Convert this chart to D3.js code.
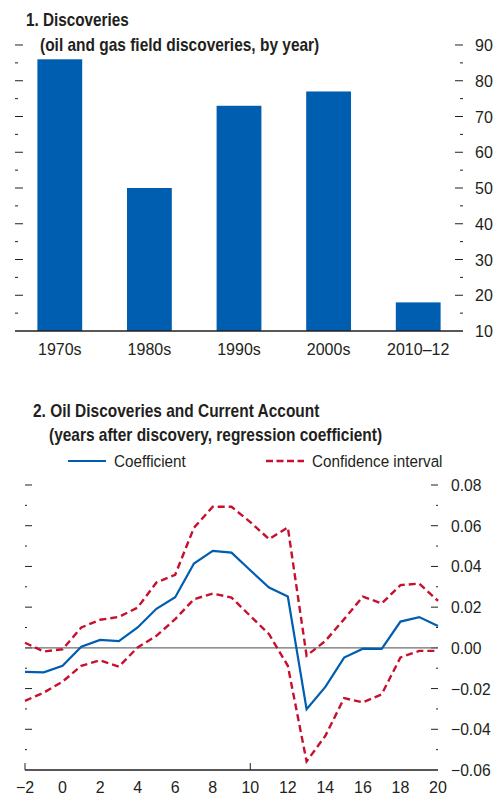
<!DOCTYPE html>
<html>
<head>
<meta charset="utf-8">
<script src="https://cdn.jsdelivr.net/npm/d3@7"></script>
<style>
  body { margin: 0; background: #fff; }
  svg text { font-family: "Liberation Sans", Arial, sans-serif; fill: #231f20; }
  .title { font-weight: bold; font-size: 18px; }
  .tick-lab { font-size: 16.5px; }
</style>
</head>
<body>
<script>
// panel 1 data
var decades = ["1970s", "1980s", "1990s", "2000s", "2010–12"];
var discoveries = [86, 50, 73, 77, 18];
var yTicks1 = [10, 20, 30, 40, 50, 60, 70, 80, 90];

// panel 2 data
var years = [-2, -1, 0, 1, 2, 3, 4, 5, 6, 7, 8, 9, 10, 11, 12, 13, 14, 15, 16, 17, 18, 19, 20];
var coefficient = [-0.0118, -0.0120, -0.0088, 0.0006, 0.0039, 0.0033, 0.0100, 0.0192, 0.0249, 0.0414, 0.0476, 0.0468,
                   0.0381, 0.0296, 0.0252, -0.0301, -0.0192, -0.0048, -0.0004, -0.0005, 0.0129, 0.0151, 0.0107];
var upperCI = [0.0025, -0.0018, -0.0007, 0.0100, 0.0138, 0.0152, 0.0198, 0.0321, 0.0359, 0.0590, 0.0693, 0.0693,
               0.0618, 0.0534, 0.0592, -0.0039, 0.0034, 0.0141, 0.0252, 0.0218, 0.0308, 0.0316, 0.0231];
var lowerCI = [-0.0260, -0.0220, -0.0166, -0.0088, -0.0061, -0.0092, 0.0002, 0.0059, 0.0141, 0.0239, 0.0267, 0.0247,
               0.0157, 0.0067, -0.0088, -0.0558, -0.0432, -0.0247, -0.0268, -0.0228, -0.0047, -0.0015, -0.0015];
var yTicks2 = [-0.06, -0.04, -0.02, 0.00, 0.02, 0.04, 0.06, 0.08];
var xTicks2 = [-2, 0, 2, 4, 6, 8, 10, 12, 14, 16, 18, 20];

var blue = "#005eb0";
var red = "#c8102e";
var ink = "#231f20";

var svg = d3.select("body").append("svg")
    .attr("width", 495)
    .attr("height", 796);

// condensed look: squeeze text horizontally around its anchor point
function label(g, cls, x, y, txt, sx, anchor) {
  return g.append("text")
    .attr("class", cls)
    .attr("transform", `translate(${x},${y}) scale(${sx},1)`)
    .attr("text-anchor", anchor || "start")
    .text(txt);
}

// ---------- panel 1 ----------
var p1 = { left: 15, right: 463, top: 45, bottom: 331 };

var x1 = d3.scaleBand()
    .domain(decades)
    .range([p1.left, p1.right])
    .paddingInner(0.5)
    .paddingOuter(0.25);

var y1 = d3.scaleLinear()
    .domain([10, 90])
    .range([p1.bottom, p1.top]);

var g1 = svg.append("g");

g1.selectAll("rect")
    .data(decades)
    .enter().append("rect")
    .attr("x", d => x1(d))
    .attr("width", x1.bandwidth())
    .attr("y", (d, i) => y1(discoveries[i]))
    .attr("height", (d, i) => y1(10) - y1(discoveries[i]))
    .attr("fill", blue);

// minor + major ticks, both sides, pointing inward
var minor1 = d3.range(15, 90, 10);
function drawTicks(g, scale, majors, minors, xl, xr, majLen, minLen) {
  [[majors, majLen], [minors, minLen]].forEach(function(set) {
    g.selectAll(null).data(set[0]).enter().append("line")
      .attr("x1", xl).attr("x2", xl + set[1])
      .attr("y1", d => scale(d)).attr("y2", d => scale(d))
      .attr("stroke", ink).attr("stroke-width", 1);
    g.selectAll(null).data(set[0]).enter().append("line")
      .attr("x1", xr - set[1]).attr("x2", xr)
      .attr("y1", d => scale(d)).attr("y2", d => scale(d))
      .attr("stroke", ink).attr("stroke-width", 1);
  });
}
drawTicks(g1, y1, yTicks1.filter(d => d > 10), minor1, p1.left, p1.right, 8, 3);

yTicks1.forEach(function(d) {
  label(g1, "tick-lab", 475, y1(d) + 6, d, 0.97);
});

g1.append("line")
    .attr("x1", p1.left).attr("x2", p1.right)
    .attr("y1", p1.bottom).attr("y2", p1.bottom)
    .attr("stroke", ink).attr("stroke-width", 1.5);

decades.forEach(function(d) {
  label(g1, "tick-lab", x1(d) + x1.bandwidth() / 2, 355, d, 0.97, "middle");
});

label(g1, "title", 26, 26, "1. Discoveries", 0.85);
label(g1, "title", 40, 51, "(oil and gas field discoveries, by year)", 0.86);

// ---------- panel 2 ----------
var p2 = { left: 25, right: 438, top: 485, bottom: 770 };

var x2 = d3.scaleLinear()
    .domain([-2, 20])
    .range([p2.left, p2.right]);

var y2 = d3.scaleLinear()
    .domain([-0.06, 0.08])
    .range([p2.bottom, p2.top]);

var g2 = svg.append("g");

var minor2 = d3.range(-0.05, 0.08, 0.02);
drawTicks(g2, y2, yTicks2.filter(d => d > -0.06), minor2, p2.left, p2.right, 7, 2);

yTicks2.forEach(function(d) {
  label(g2, "tick-lab", 451, y2(d) + 6, d3.format(".2f")(d).replace("-", "\u2212"), 0.95);
});

// zero line
g2.append("line")
    .attr("x1", p2.left).attr("x2", p2.right)
    .attr("y1", y2(0)).attr("y2", y2(0))
    .attr("stroke", "#6d6e71").attr("stroke-width", 1.3);

// x axis
g2.append("line")
    .attr("x1", p2.left).attr("x2", p2.right)
    .attr("y1", p2.bottom).attr("y2", p2.bottom)
    .attr("stroke", ink).attr("stroke-width", 1.3);
g2.selectAll(null).data([-2, 10]).enter().append("line")
    .attr("x1", d => x2(d)).attr("x2", d => x2(d))
    .attr("y1", p2.bottom - 7).attr("y2", p2.bottom)
    .attr("stroke", ink).attr("stroke-width", 1);

xTicks2.forEach(function(d) {
  label(g2, "tick-lab", x2(d), 793, String(d).replace("-", "\u2212"), 0.97, "middle");
});

var line = d3.line()
    .x((d, i) => x2(years[i]))
    .y(d => y2(d));

g2.append("path").datum(upperCI)
    .attr("d", line).attr("fill", "none")
    .attr("stroke", red).attr("stroke-width", 2.4).attr("stroke-dasharray", "7,4");
g2.append("path").datum(lowerCI)
    .attr("d", line).attr("fill", "none")
    .attr("stroke", red).attr("stroke-width", 2.4).attr("stroke-dasharray", "7,4");
g2.append("path").datum(coefficient)
    .attr("d", line).attr("fill", "none")
    .attr("stroke", blue).attr("stroke-width", 2.2);

label(g2, "title", 33, 417, "2. Oil Discoveries and Current Account", 0.86);
label(g2, "title", 49, 441, "(years after discovery, regression coefficient)", 0.86);

// legend
g2.append("line").attr("x1", 68).attr("x2", 106).attr("y1", 461).attr("y2", 461)
    .attr("stroke", blue).attr("stroke-width", 2.2);
label(g2, "tick-lab", 114, 467, "Coefficient", 0.925);
g2.append("line").attr("x1", 266).attr("x2", 304).attr("y1", 461).attr("y2", 461)
    .attr("stroke", red).attr("stroke-width", 2.4).attr("stroke-dasharray", "7,3.5");
label(g2, "tick-lab", 312, 467, "Confidence interval", 0.925);
</script>
</body>
</html>
